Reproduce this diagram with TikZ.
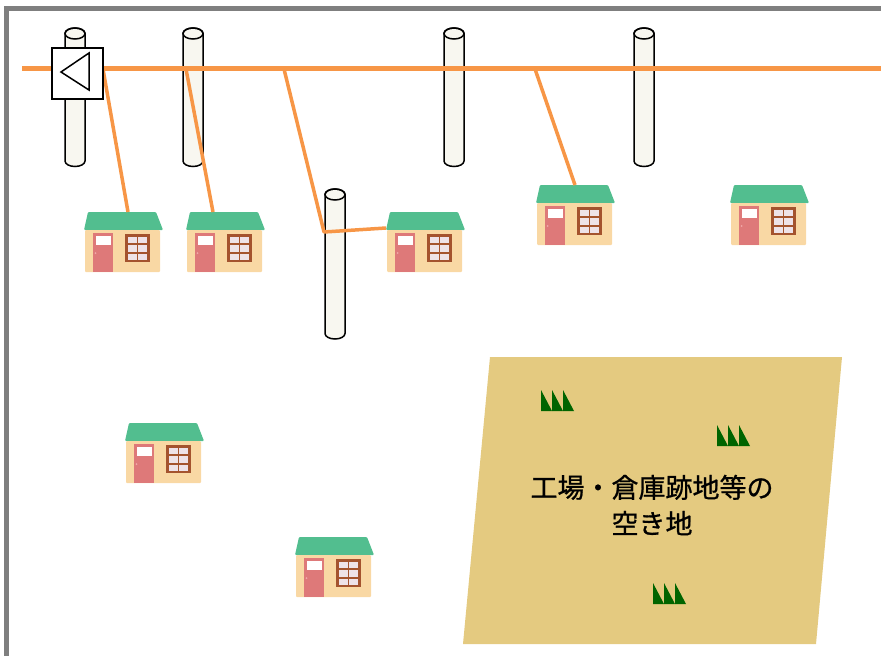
\documentclass[tikz,border=0pt]{standalone}
\usepackage{fontspec}
\newfontfamily\jpfont[FakeBold=0.8]{Noto Sans CJK JP}
\definecolor{framegray}{HTML}{7F7F7F}
\definecolor{wire}{HTML}{F79646}
\definecolor{polefill}{HTML}{F8F7F0}
\definecolor{roofgreen}{HTML}{52BE8F}
\definecolor{wallpeach}{HTML}{F9D8A4}
\definecolor{doorpink}{HTML}{DE7979}
\definecolor{knob}{HTML}{F0A8A8}
\definecolor{winbrown}{HTML}{A4532E}
\definecolor{pane}{HTML}{EEE2E8}
\definecolor{lotsand}{HTML}{E4CA80}
\definecolor{grassgreen}{HTML}{006400}
\tikzset{
  frameline/.style={draw=framegray, line width=5pt},
  mainwire/.style={draw=wire, line width=4.5pt},
  dropwire/.style={draw=wire, line width=3.5pt, line join=round},
  sigbox/.style={draw=black, fill=white, line width=1.5pt, minimum size=51pt, inner sep=0pt},
  pics/pole/.style={code={
    \filldraw[fill=polefill, draw=black, line width=1.5pt]
      (-10,0) -- (-10,#1) arc[start angle=180, end angle=0, x radius=10, y radius=5.5]
      -- (10,0) arc[start angle=0, end angle=-180, x radius=10, y radius=5.5] -- cycle;
    \draw[black, line width=1.5pt] (0,0) ellipse[x radius=10, y radius=5.5];
  }},
  pics/house/.style={code={
    \fill[roofgreen, rounded corners=1pt] (-1,0) -- (3,-18) -- (71,-18) -- (78,0) -- cycle;
    \fill[wallpeach, rounded corners=1pt] (0,0) rectangle (75,42);
    \fill[doorpink] (8,3) rectangle (28,42);
    \fill[white] (11,6) rectangle (26,15);
    \fill[knob] (10.5,23) circle (1);
    \fill[winbrown] (40,4) rectangle (65,32);
    \foreach \c in {0,1} \foreach \r in {0,1,2}
      \fill[pane] ({42.5+\c*10.5},{6.5+\r*8.5}) rectangle ++(9,6.5);
  }},
  pics/grass/.style={code={
    \foreach \i in {0,1,2}
      \fill[grassgreen] ({\i*11},0) -- ({\i*11},21) -- ({\i*11+11},21) -- cycle;
  }}
}
\begin{document}
\begin{tikzpicture}[x=1pt, y=-1pt]
\useasboundingbox (0,0) rectangle (881,656);
\clip (0,0) rectangle (881,656);

% outer frame (open to the right and bottom)
\draw[frameline] (6.5,8.5) rectangle (900,680);

% utility poles
\pic at (75,33.5) {pole=127.5};
\pic at (193,33.5) {pole=127.5};
\pic at (454,33.5) {pole=127.5};
\pic at (644,33.5) {pole=127.5};
\pic at (335,194.5) {pole=139};

% houses (anchor = top-left corner of the wall)
\pic at (85,230) {house};
\pic at (187,230) {house};
\pic at (387,230) {house};
\pic at (537,203) {house};
\pic at (731,203) {house};
\pic at (126,441) {house};
\pic at (296,555) {house};

% wiring points
\coordinate (wL) at (22,68.5);
\coordinate (wR) at (890,68.5);
\coordinate (t1) at (103,69);
\coordinate (t2) at (186,69);
\coordinate (t3) at (284,69);
\coordinate (t4) at (535,69);
\coordinate (p5) at (324,232);
\coordinate (h1) at (128,212);
\coordinate (h2) at (213,212);
\coordinate (h3) at (386,228);
\coordinate (h4) at (575,185);

% service drops
\draw[dropwire] (t1) -- (h1);
\draw[dropwire] (t2) -- (h2);
\draw[dropwire] (t3) -- (p5) -- (h3);
\draw[dropwire] (t4) -- (h4);

% distribution line
\draw[mainwire] (wL) -- (wR);

% equipment box on the first pole
\node[sigbox] (box) at (77.5,73.5) {};
\draw[black, line width=1.5pt, line join=miter] (61,72) -- (89,53) -- (89,90) -- cycle;

% vacant lot
\fill[lotsand] (490,357) -- (842,357) -- (816,644) -- (463,644) -- cycle;
\pic at (541,390) {grass};
\pic at (717,425) {grass};
\pic at (653,583) {grass};
\node[font=\jpfont\fontsize{27}{36}\selectfont, align=center, inner sep=0pt] (lot) at (652,505)
  {工場・倉庫跡地等の\\空き地};
\end{tikzpicture}
\end{document}
